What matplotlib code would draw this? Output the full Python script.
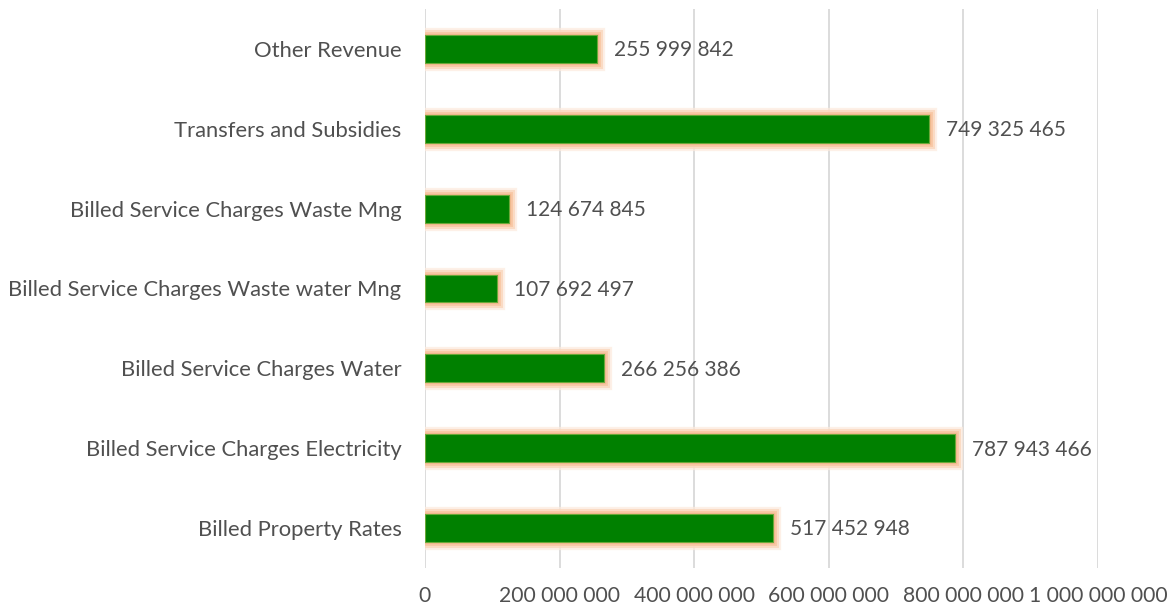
import matplotlib
matplotlib.use("Agg")
import matplotlib.pyplot as plt
import matplotlib.patheffects as pe
from matplotlib.ticker import FuncFormatter

categories = [
    "Billed Property Rates",
    "Billed Service Charges Electricity",
    "Billed Service Charges Water",
    "Billed Service Charges Waste water Mng",
    "Billed Service Charges Waste Mng",
    "Transfers and Subsidies",
    "Other Revenue",
]
values = [517452948, 787943466, 266256386, 107692497, 124674845, 749325465, 255999842]
x_ticks = [0, 200000000, 400000000, 600000000, 800000000, 1000000000]

plt.rcParams["font.family"] = ["Lato", "DejaVu Sans"]
text_color = "#505050"

def spaced(v, _=None):
    return f"{int(v):,}".replace(",", " ")

fig = plt.figure(figsize=(11.75, 6.12), dpi=100)
ax = fig.add_axes([0.3617, 0.0719, 0.9345 - 0.3617, 0.9853 - 0.0719])

# soft orange glow around each bar
glow = [
    pe.Stroke(linewidth=11, foreground="#FDEBDD", alpha=0.7),
    pe.Stroke(linewidth=8, foreground="#FAD6BC", alpha=0.8),
    pe.Stroke(linewidth=5, foreground="#F8C7A4", alpha=0.9),
    pe.Stroke(linewidth=2.5, foreground="#F6B890", alpha=0.9),
    pe.Normal(),
]

bars = ax.barh(range(len(categories)), values, height=0.35, color="#008000",
               edgecolor="#6BA83A", linewidth=0.8, zorder=3)
for b in bars:
    b.set_path_effects(glow)

for i, v in enumerate(values):
    ax.annotate(spaced(v), xy=(v, i), xytext=(12, -1), textcoords="offset points",
                va="center", ha="left", fontsize=15, color=text_color, zorder=4)

ax.set_xlim(0, 1000000000)
ax.set_ylim(-0.5, len(categories) - 0.5)
ax.set_xticks(x_ticks)
ax.xaxis.set_major_formatter(FuncFormatter(spaced))
ax.set_yticks(range(len(categories)))
ax.set_yticklabels(categories)
ax.tick_params(axis="both", length=0, colors=text_color)
ax.tick_params(axis="y", pad=17, labelsize=15.8)
ax.tick_params(axis="x", pad=13, labelsize=15.2)
ax.grid(axis="x", color="#D9D9D9", linewidth=1.3, zorder=0)
ax.set_axisbelow(True)
for s in ax.spines.values():
    s.set_visible(False)

fig.savefig("out.png", dpi=100, facecolor="white")
